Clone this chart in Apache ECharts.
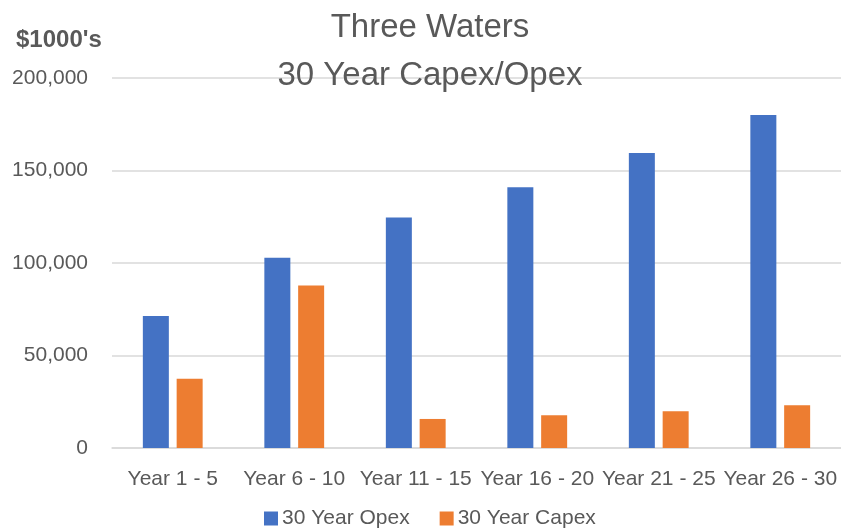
<!DOCTYPE html>
<html>
<head>
<meta charset="utf-8">
<script src="https://cdn.jsdelivr.net/npm/echarts@6/dist/echarts.min.js"></script>
<style>
  html, body { margin: 0; padding: 0; background: #fff; }
  #chart { width: 841px; height: 532px; }
</style>
</head>
<body>
<div id="chart"></div>
<script>
const categories = ['Year 1 - 5', 'Year 6 - 10', 'Year 11 - 15', 'Year 16 - 20', 'Year 21 - 25', 'Year 26 - 30']
const opex = [71300, 102900, 124600, 140900, 159500, 180000]
const capex = [37500, 87800, 15700, 17700, 19900, 23100]

const font = 'Liberation Sans'
const grey = '#595959'

function getOptions() {
  return {
    title: [
      {
        text: 'Three Waters\n30 Year Capex/Opex',
        left: 425,
        top: -1,
        textAlign: 'center',
        textStyle: {
          color: grey,
          fontFamily: font,
          fontWeight: 'normal',
          fontSize: 33,
          lineHeight: 48
        }
      },
      {
        text: "$1000's",
        left: 16,
        top: 28,
        padding: 0,
        textStyle: {
          color: grey,
          fontFamily: font,
          fontWeight: 'bold',
          fontSize: 24
        }
      }
    ],
    legend: {
      top: 508,
      left: 264,
      padding: 0,
      icon: 'rect',
      itemWidth: 14,
      itemHeight: 14,
      itemGap: 30,
      textStyle: { color: grey, fontFamily: font, fontSize: 21, padding: [0, 0, 0, -1] }
    },
    grid: {
      left: 112,
      right: 0,
      top: 78,
      bottom: 84
    },
    xAxis: {
      type: 'category',
      data: categories,
      axisTick: { show: false },
      axisLine: { lineStyle: { color: '#D9D9D9', width: 1.5 } },
      axisLabel: { color: grey, fontFamily: font, fontSize: 21, margin: 21, interval: 0 }
    },
    yAxis: {
      type: 'value',
      min: 0,
      max: 200000,
      interval: 50000,
      axisLine: { show: false },
      axisTick: { show: false },
      splitLine: { lineStyle: { color: '#D9D9D9', width: 1.5 } },
      axisLabel: {
        color: grey,
        fontFamily: font,
        fontSize: 21,
        margin: 24,
        formatter: function (v) { return v.toLocaleString('en-US') }
      }
    },
    series: [
      {
        name: '30 Year Opex',
        type: 'bar',
        data: opex,
        barWidth: 26,
        barGap: '30%',
        itemStyle: { color: '#4472C4' }
      },
      {
        name: '30 Year Capex',
        type: 'bar',
        data: capex,
        barWidth: 26,
        itemStyle: { color: '#ED7D31' }
      }
    ]
  }
}

const myChart = echarts.init(document.getElementById('chart'))
myChart.setOption(getOptions())
</script>
</body>
</html>
